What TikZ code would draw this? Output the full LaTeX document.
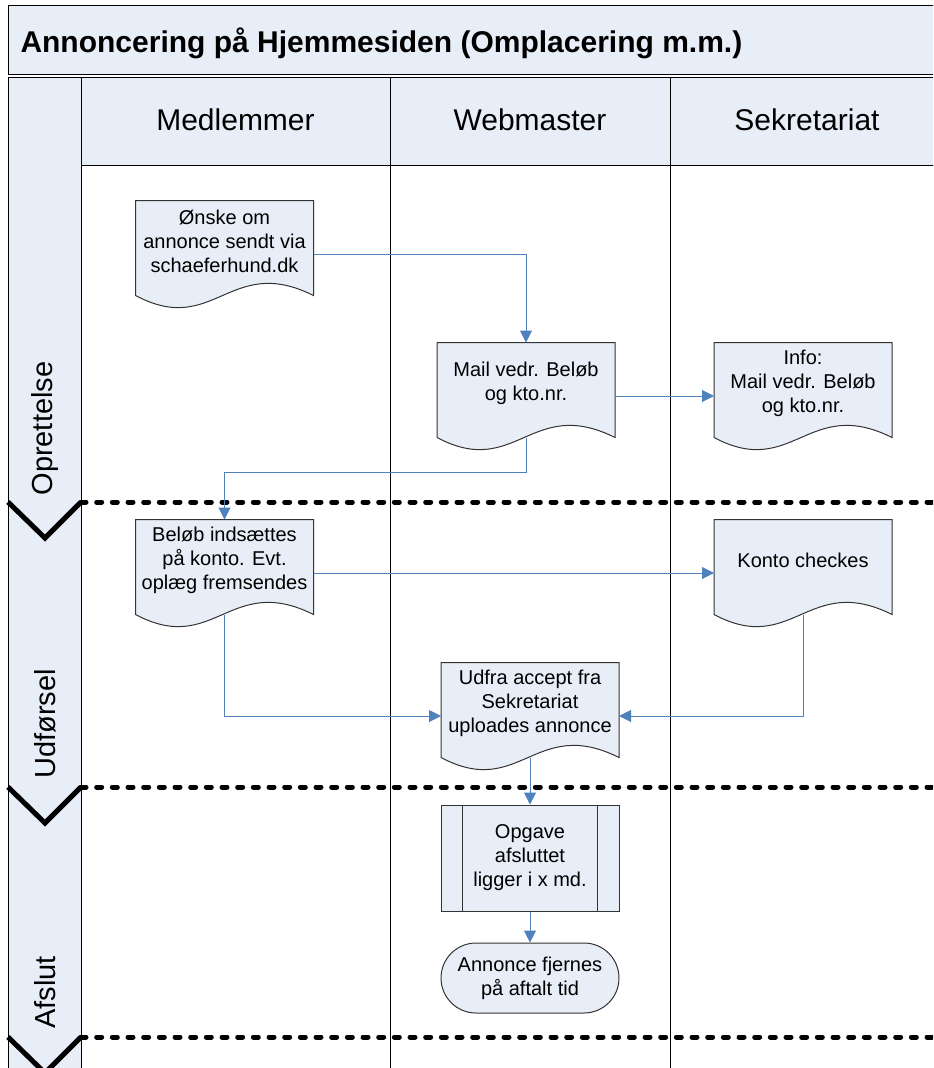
\documentclass[tikz,border=0pt]{standalone}
\usepackage{fontspec}
\setmainfont{Liberation Sans}
\usetikzlibrary{calc,arrows.meta,positioning,shapes.misc}

\definecolor{laneblue}{RGB}{232,238,247}
\definecolor{flowblue}{RGB}{79,129,189}

\tikzset{every picture/.style={line width=0.75pt}}
\tikzset{
  boxtext/.style={font=\fontsize{15}{18}\selectfont, align=center, inner sep=0pt},
  docbox/.style={minimum width=132.75pt, minimum height=79.5pt, inner sep=0pt},
  procbox/.style={draw=black!80, fill=laneblue, minimum width=133.5pt, minimum height=79.5pt, boxtext},
  endbox/.style={draw=black!80, fill=laneblue, rounded rectangle, minimum width=133.5pt, minimum height=52.5pt, boxtext},
  flow/.style={draw=flowblue, line width=0.75pt, -{Triangle[length=9pt,width=9pt]}, color=flowblue},
  phaseline/.style={line width=3.75pt, dash pattern=on 3.75pt off 8pt, line cap=round},
  chevron/.style={line width=3.75pt},
  phasetext/.style={font=\fontsize{21.75}{26}\selectfont, rotate=90, anchor=west, inner sep=0pt},
  headtext/.style={font=\fontsize{22.5}{27}\selectfont},
}

% document shape with wavy bottom: name, centre, text
\newcommand{\docshape}[3]{%
  \node[docbox] (#1) at (#2) {};
  \draw[draw=black!80, fill=laneblue] (#1.north west) -- (#1.north east) -- ($(#1.south east)+(0,-12)$)
    .. controls ($(#1.south)+(5,-54)$) and ($(#1.south)+(-10,30)$) .. ($(#1.south west)+(0,-12)$) -- cycle;
  \node[boxtext] at ($(#1.center)+(0,-13)$) {#3};
}

\begin{document}
\begin{tikzpicture}[x=0.75pt,y=0.75pt,yscale=-1,xscale=1]
\useasboundingbox (0,0) rectangle (933,1068);
\clip (0,0) rectangle (933,1068);

%Title bar
\draw[fill=laneblue] (8,5) rectangle (945,74);
\node[anchor=west, inner sep=0pt, font=\bfseries\fontsize{22.5}{27}\selectfont] (title) at (20,43) {Annoncering på Hjemmesiden (Omplacering m.m.)};

%Lane headers and phase column
\draw[fill=laneblue] (81,77) rectangle (945,165);
\draw[fill=laneblue] (8,77) rectangle (81,1080);
\draw (390,77) -- (390,1080);
\draw (670,77) -- (670,1080);

\node[headtext] (medlemmer) at (235.5,120) {Medlemmer};
\node[headtext] (webmaster) at (530,120) {Webmaster};
\node[headtext] (sekretariat) at (807,120) {Sekretariat};

%Phase separators
\foreach \y in {502,787,1037}{
  \draw[phaseline] (81,\y) -- (945,\y);
  \draw[chevron] (8,\y) -- (45,\y+36) -- (81,\y);
}

\node[phasetext] (oprettelse) at (45,496) {Oprettelse};
\node[phasetext] (udforsel) at (45,779) {Udførsel};
\node[phasetext] (afslut) at (45,1029) {Afslut};

%Document shapes
\docshape{onske}{224.5,254}{Ønske om\\annonce sendt via\\schaeferhund.dk}
\docshape{mail}{526,396}{Mail vedr. Beløb\\og kto.nr.}
\docshape{info}{803,396}{Info:\\Mail vedr. Beløb\\og kto.nr.}
\docshape{belob}{224.5,573}{Beløb indsættes\\på konto. Evt.\\oplæg fremsendes}
\docshape{konto}{803,573}{Konto checkes}
\docshape{udfra}{530,716}{Udfra accept fra\\Sekretariat\\uploades annonce}

%Predefined process
\node[procbox] (opgave) at (530,858) {Opgave\\afsluttet\\ligger i x md.};
\draw[draw=black!80] ($(opgave.north west)+(22,0)$) -- ($(opgave.south west)+(22,0)$);
\draw[draw=black!80] ($(opgave.north east)+(-22,0)$) -- ($(opgave.south east)+(-22,0)$);

%Terminator
\node[endbox] (fjernes) at (530,978) {Annonce fjernes\\på aftalt tid};

%Connectors
\draw[flow] (onske.east) -| (mail.north);
\draw[flow] (mail.east) -- (info.west);
\draw[flow] ($(mail.south)+(0,-12)$) -- ++(0,35) -| (belob.north);
\draw[flow] (belob.east) -- (konto.west);
\draw[flow] ($(belob.south)+(0,-12)$) |- (udfra.west);
\draw[flow] ($(konto.south)+(0,-12)$) |- (udfra.east);
\draw[flow] ($(udfra.south)+(0,-12)$) -- (opgave.north);
\draw[flow] (opgave.south) -- (fjernes.north);

\end{tikzpicture}
\end{document}
